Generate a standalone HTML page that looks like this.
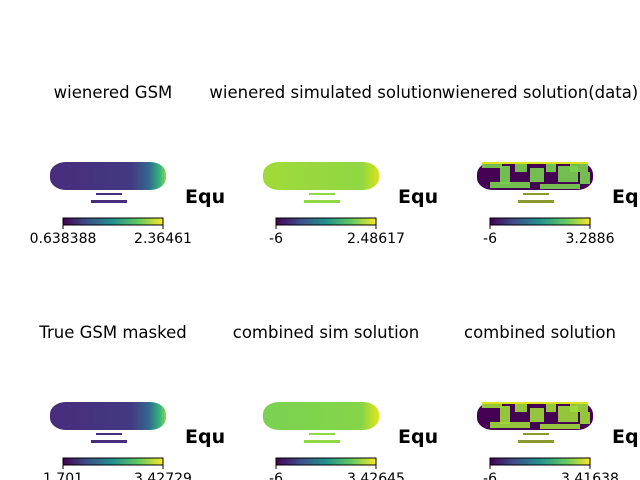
<!DOCTYPE html>
<html><head><meta charset="utf-8"><style>
body{margin:0;background:#fff}
svg{display:block;font-family:"DejaVu Sans","Liberation Sans",sans-serif}
</style></head><body>
<svg width="640" height="480" viewBox="0 0 640 480">
<defs>
<linearGradient id="vir" x1="0" x2="1" y1="0" y2="0">
<stop offset="0" stop-color="#440154"/><stop offset="0.25" stop-color="#3b528b"/><stop offset="0.5" stop-color="#21918c"/><stop offset="0.75" stop-color="#5ec962"/><stop offset="1" stop-color="#fde725"/>
</linearGradient>
<linearGradient id="gsm" x1="0" x2="1">
<stop offset="0" stop-color="#472d7b"/><stop offset="0.7" stop-color="#443983"/><stop offset="0.85" stop-color="#31688e"/><stop offset="0.95" stop-color="#35b779"/><stop offset="1" stop-color="#90d743"/>
</linearGradient>
<linearGradient id="simg" x1="0" x2="1">
<stop offset="0" stop-color="#a0da39"/><stop offset="0.85" stop-color="#90d743"/><stop offset="1" stop-color="#d8e219"/>
</linearGradient>
<linearGradient id="csim" x1="0" x2="1">
<stop offset="0" stop-color="#7ad151"/><stop offset="0.85" stop-color="#86d549"/><stop offset="1" stop-color="#e5e419"/>
</linearGradient>
</defs>
<g id="panels"></g>
</svg>
<script>
const titles=["wienered GSM","wienered simulated solution","wienered solution(data)","True GSM masked","combined sim solution","combined solution"];
const minLabels=["0.638388","-6","-6","1.701","-6","-6"];
const maxLabels=["2.36461","2.48617","3.2886","3.42729","3.42645","3.41638"];
const fills=["url(#gsm)","url(#simg)","#440154","url(#gsm)","url(#csim)","#440154"];
const ns="http://www.w3.org/2000/svg";
const g=document.getElementById('panels');
function mk(t,a,p){const e=document.createElementNS(ns,t);for(const k in a)e.setAttribute(k,a[k]);(p||g).appendChild(e);return e;}
const cx=[113,326,540];
titles.forEach((t,i)=>{
  const c=cx[i%3], oy=Math.floor(i/3)*240;
  const grp=mk('g',{});
  
  
  const tt=mk('text',{x:c,y:98+oy,'text-anchor':'middle','font-size':16.5,fill:'#000'},grp);tt.textContent=t;
  
  
  const m=mk('rect',{x:c-63,y:162+oy,width:116,height:28,rx:16,ry:12,fill:fills[i]},grp);
  
  
  if(i===2||i===5){
    const pts=[[-58,2,20,4],[-40,4,10,18],[-25,0,12,10],[-10,6,14,14],[6,2,10,8],[18,4,20,16],[30,0,18,10],[40,10,10,12],[-50,20,40,6],[0,22,40,5]];
    pts.forEach(p=>{mk('rect',{x:c+p[0],y:162+oy+p[1],width:p[2],height:p[3],fill:i===2?'#7ad151':'#9fda3a',opacity:0.9},grp);});
    mk('rect',{x:c-58,y:162+oy,width:106,height:2,fill:'#d8e219'},grp);
  }
  const sc=i===2||i===5?'#8a9a30':(fills[i]==='url(#gsm)'?'#472d7b':'#90d743');
  mk('rect',{x:c-17,y:193+oy,width:26,height:2,fill:sc},grp);
  mk('rect',{x:c-22,y:200+oy,width:36,height:3,fill:sc},grp);
  const eq=mk('text',{x:c+72,y:203+oy,'font-size':19,'font-weight':'bold',fill:'#000'},grp);eq.textContent='Equ';
  
  
  mk('rect',{x:c+72+41,y:180+oy,width:30,height:30,fill:'#fff'},grp);
  const cb=mk('rect',{x:c-50,y:218+oy,width:100,height:7,fill:'url(#vir)',stroke:'#000','stroke-width':1},grp);
  
  
  mk('line',{x1:c-50,x2:c-50,y1:225+oy,y2:229+oy,stroke:'#000'},grp);
  mk('line',{x1:c+50,x2:c+50,y1:225+oy,y2:229+oy,stroke:'#000'},grp);
  const l1=mk('text',{x:c-50,y:243+oy,'text-anchor':'middle','font-size':14,fill:'#000'},grp);l1.textContent=minLabels[i];
  
  
  const l2=mk('text',{x:c+50,y:243+oy,'text-anchor':'middle','font-size':14,fill:'#000'},grp);l2.textContent=maxLabels[i];
  
  
});
</script>
</body></html>
